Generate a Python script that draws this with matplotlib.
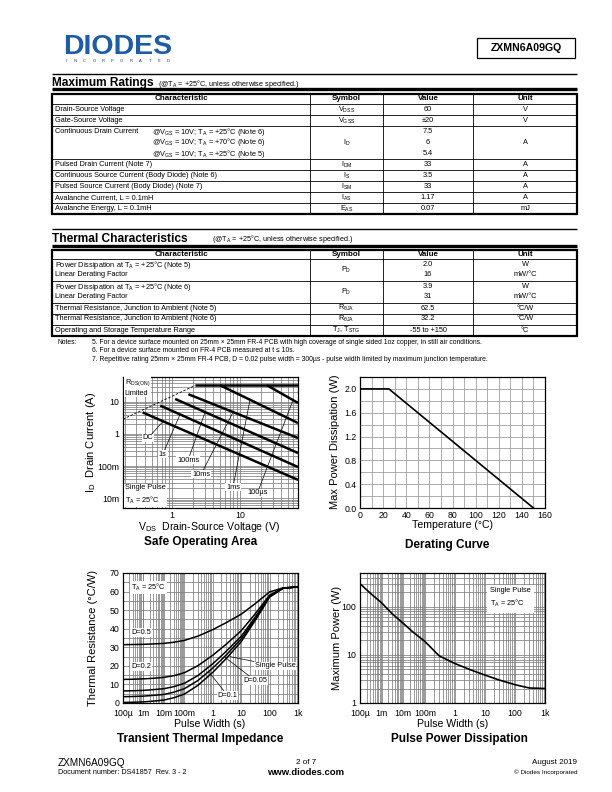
import numpy as np
import matplotlib.pyplot as plt
from matplotlib.patches import Rectangle
from matplotlib.ticker import FixedLocator, FixedFormatter, NullFormatter, MultipleLocator

plt.rcParams['font.family'] = ['Liberation Sans', 'DejaVu Sans']
plt.rcParams['mathtext.fontset'] = 'custom'
plt.rcParams['mathtext.rm'] = 'Liberation Sans'
plt.rcParams['mathtext.it'] = 'Liberation Sans:italic'
plt.rcParams['mathtext.bf'] = 'Liberation Sans:bold'

# ---- table data ----
max_chars = ["Drain-Source Voltage", "Gate-Source Voltage", "Continuous Drain Current",
             "Pulsed Drain Current (Note 7)", "Continuous Source Current (Body Diode) (Note 6)",
             "Pulsed Source Current (Body Diode) (Note 7)", "Avalanche Current, L = 0.1mH",
             "Avalanche Energy, L = 0.1mH"]
id_conditions = [r"@V$_{\rm GS}$ = 10V; T$_{\rm A}$ = +25°C (Note 6)",
                 r"@V$_{\rm GS}$ = 10V; T$_{\rm A}$ = +70°C (Note 6)",
                 r"@V$_{\rm GS}$ = 10V; T$_{\rm A}$ = +25°C (Note 5)"]
max_symbols = [r"V$_{\rm DSS}$", r"V$_{\rm GSS}$", r"I$_{\rm D}$", r"I$_{\rm DM}$", r"I$_{\rm S}$",
               r"I$_{\rm SM}$", r"I$_{\rm AS}$", r"E$_{\rm AS}$"]
max_values = [["60"], ["±20"], ["7.5", "6", "5.4"], ["33"], ["3.5"], ["33"], ["1.17"], ["0.07"]]
max_units = ["V", "V", "A", "A", "A", "A", "A", "mJ"]

th_chars = [[r"Power Dissipation at T$_{\rm A}$ = +25°C (Note 5)", "Linear Derating Factor"],
            [r"Power Dissipation at T$_{\rm A}$ = +25°C (Note 6)", "Linear Derating Factor"],
            ["Thermal Resistance, Junction to Ambient (Note 5)"],
            ["Thermal Resistance, Junction to Ambient (Note 6)"],
            ["Operating and Storage Temperature Range"]]
th_symbols = [r"P$_{\rm D}$", r"P$_{\rm D}$", r"R$_{\rm θJA}$", r"R$_{\rm θJA}$",
              r"T$_{\rm J}$, T$_{\rm STG}$"]
th_values = [["2.0", "16"], ["3.9", "31"], ["62.5"], ["32.2"], ["-55 to +150"]]
th_units = [["W", "mW/°C"], ["W", "mW/°C"], ["°C/W"], ["°C/W"], ["°C"]]

notes = ["5. For a device surface mounted on 25mm × 25mm FR-4 PCB with high coverage of single sided 1oz copper, in still air conditions.",
         "6. For a device surface mounted on FR-4 PCB measured at t ≤ 10s.",
         "7. Repetitive rating 25mm × 25mm FR-4 PCB, D = 0.02 pulse width = 300µs - pulse width limited by maximum junction temperature."]

# ---- safe operating area ----
soa_labels = ["DC", "1s", "100ms", "10ms", "1ms", "100µs"]
soa_v = [[0.37, 71], [0.67, 71], [1.11, 71], [1.74, 71], [5.1, 71], [24.9, 71]]
soa_i = [[4.7, 0.037], [7.7, 0.093], [12.4, 0.255], [17.4, 0.75], [33, 2.2], [33, 9.3]]
rds_v = [0.19, 2.2]
rds_i = [2.9, 33]
idm_v = [2.2, 71]
idm_i = [33, 33]

# ---- derating ----
derate_t = [0, 25, 150]
derate_p = [2.0, 2.0, 0.0]

# ---- transient thermal impedance / pulse power ----
pulse_t = [1e-4, 3e-4, 1e-3, 3e-3, 1e-2, 3e-2, 0.1, 0.3, 1, 3, 10, 30, 100, 300, 1000]
zth = {
    "D=0.5": [31.4, 31.5, 31.6, 31.8, 32.1, 32.7, 33.7, 36.0, 39.5, 43.3, 47.8, 53.3, 59.8, 62.0, 62.5],
    "D=0.2": [12.7, 12.8, 13.0, 13.3, 13.8, 14.7, 16.3, 20.1, 25.7, 31.7, 38.9, 47.7, 58.1, 61.9, 62.5],
    "D=0.1": [6.5, 6.6, 6.8, 7.2, 7.7, 8.8, 10.6, 14.8, 21.1, 27.9, 35.9, 45.9, 57.5, 61.9, 62.5],
    "D=0.05": [3.4, 3.5, 3.7, 4.1, 4.6, 5.8, 7.7, 12.1, 18.8, 25.9, 34.5, 44.9, 57.3, 61.8, 62.5],
    "Single Pulse": [0.3, 0.4, 0.6, 1.0, 1.6, 2.8, 4.8, 9.5, 16.5, 24.0, 33.0, 44.0, 57.0, 61.8, 62.5],
}
pulse_p = [300, 190, 120, 72, 45, 29, 19, 9.5, 6.6, 5.0, 3.8, 3.0, 2.4, 2.05, 2.0]
time_ticks = [1e-4, 1e-3, 1e-2, 0.1, 1, 10, 100, 1000]
time_labels = ["100µ", "1m", "10m", "100m", "1", "10", "100", "1k"]

W, H = 612, 792
fig = plt.figure(figsize=(W / 100, H / 100), dpi=100)
page = fig.add_axes([0, 0, 1, 1])
page.set_xlim(0, W)
page.set_ylim(H, 0)
page.axis("off")

GRID = "#7f7f7f"


def add_ax(x0, y0, x1, y1):
    return fig.add_axes([x0 / W, 1 - y1 / H, (x1 - x0) / W, (y1 - y0) / H])


def hline(y, x0=52, x1=577, lw=0.6):
    page.plot([x0, x1], [y, y], color="black", lw=lw, solid_capstyle="butt")


def vline(x, y0, y1, lw=0.6):
    page.plot([x, x], [y0, y1], color="black", lw=lw, solid_capstyle="butt")


# ---- header ----
page.text(63, 54.5, "DIODES", fontsize=20.5, fontweight="bold", color="#1d5ca6",
          va="baseline", ha="left")
page.plot([63, 172], [45, 45], color="white", lw=0.7)
for k, ch in enumerate("INCORPORATED"):
    page.text(66 + 9.3 * k, 61.5, ch, fontsize=3.0, color="#333333", va="center", ha="center")
page.add_patch(Rectangle((477, 38), 98, 20, fill=False, ec="black", lw=0.9))
page.text(526, 48, "ZXMN6A09GQ", fontsize=7.6, fontweight="bold", ha="center", va="center")

col_x = [52, 310, 383, 473, 577]


def table(top, heads, rows, head_h=10):
    # rows: list of (char_lines, symbol, value_lines, unit_lines)
    y = top
    for i, h in enumerate(heads):
        page.text((col_x[i] + col_x[i + 1]) / 2, y + head_h / 2, h, fontsize=5.8,
                  fontweight="bold", ha="center", va="center")
    y += head_h
    hline(y)
    for chars, sym, vals, units in rows:
        n = max(len(chars), len(vals), len(units))
        h = 11 * n
        for k, c in enumerate(chars):
            if isinstance(c, tuple):
                page.text(265, y + 5.5 + 11 * k, c[1], fontsize=5.3, ha="right", va="center")
                if c[0]:
                    page.text(55, y + 5.5 + 11 * k, c[0], fontsize=5.3, ha="left", va="center")
            else:
                page.text(55, y + 5.5 + 9 * k + (1 if len(chars) == 2 else 0), c,
                          fontsize=5.3, ha="left", va="center")
        page.text((col_x[1] + col_x[2]) / 2, y + h / 2, sym, fontsize=5.3, ha="center", va="center")
        for k, v in enumerate(vals):
            yy = y + h / 2 + (k - (len(vals) - 1) / 2) * (11 if len(vals) == 3 else 9)
            page.text((col_x[2] + col_x[3]) / 2, yy, v, fontsize=5.3, ha="center", va="center")
        for k, u in enumerate(units):
            yy = y + h / 2 + (k - (len(units) - 1) / 2) * 9
            page.text((col_x[3] + col_x[4]) / 2, yy, u, fontsize=5.3, ha="center", va="center")
        y += h
        hline(y, lw=0.6)
    page.add_patch(Rectangle((col_x[0], top), col_x[-1] - col_x[0], y - top, fill=False,
                             ec="black", lw=1.6))
    for x in col_x[1:-1]:
        vline(x, top, y)
    return y


heads = ["Characteristic", "Symbol", "Value", "Unit"]

# ---- maximum ratings ----
hline(73.5, lw=1.0)
page.text(52, 83, "Maximum Ratings", fontsize=8.6, fontweight="bold", va="center")
page.text(158, 83.5, r"(@T$_{\rm A}$ = +25°C, unless otherwise specified.)", fontsize=5.2, va="center")
hline(89, lw=2.4)
rows = []
for i in range(len(max_chars)):
    if i == 2:
        chars = [(max_chars[i], id_conditions[0]), ("", id_conditions[1]), ("", id_conditions[2])]
    else:
        chars = [max_chars[i]]
    rows.append((chars, max_symbols[i], max_values[i], [max_units[i]]))
table(94, heads, rows)

# ---- thermal characteristics ----
hline(229, lw=1.0)
page.text(52, 238.5, "Thermal Characteristics", fontsize=8.6, fontweight="bold", va="center")
page.text(212, 239, r"(@T$_{\rm A}$ = +25°C, unless otherwise specified.)", fontsize=5.2, va="center")
hline(245.5, lw=2.4)
rows = [(th_chars[i], th_symbols[i], th_values[i], th_units[i]) for i in range(len(th_chars))]
table(249.5, heads, rows, head_h=9)

page.text(58, 342.5, "Notes:", fontsize=4.9, va="center")
for k, n in enumerate(notes):
    page.text(92, 342.5 + 8.4 * k, n, fontsize=4.9, va="center")


def style_chart(ax, xpad=2.5):
    for s in ax.spines.values():
        s.set_linewidth(0.9)
    ax.tick_params(which="both", length=0, labelsize=6.3, pad=2.5)
    ax.tick_params(axis="x", pad=xpad)
    ax.set_axisbelow(True)


# ---- Safe operating area ----
ax = add_ax(123, 377, 298, 508)
ax.set_xscale("log")
ax.set_yscale("log")
ax.set_xlim(0.19, 71)
ax.set_ylim(0.0049, 60)
ax.grid(True, which="both", color=GRID, lw=0.55)
ax.plot(rds_v, rds_i, color="black", lw=0.6, ls=(0, (3, 2)))
ax.plot(idm_v, idm_i, color="black", lw=1.8, solid_capstyle="butt")
for v, i in zip(soa_v, soa_i):
    ax.plot(v, i, color="black", lw=1.8, solid_capstyle="butt")
ax.xaxis.set_major_locator(FixedLocator([1, 10]))
ax.xaxis.set_major_formatter(FixedFormatter(["1", "10"]))
ax.xaxis.set_minor_formatter(NullFormatter())
ax.yaxis.set_major_locator(FixedLocator([0.01, 0.1, 1, 10]))
ax.yaxis.set_major_formatter(FixedFormatter(["10m", "100m", "1", "10"]))
ax.yaxis.set_minor_formatter(NullFormatter())
style_chart(ax)

box = dict(fc="white", ec="none", pad=0.6)
ax.text(0.2, 30, "R$_{\\rm DS(ON)}$\nLimited", fontsize=5.3, va="center", ha="left",
        bbox=box, linespacing=1.4)
leader_at = [0.74, 1.31, 3.06, 7.9, 14.0, 60.0]
text_at = [(0.37, 0.75), (0.64, 0.237), (1.18, 0.154), (1.97, 0.056), (6.2, 0.022), (12.7, 0.0144)]
for lab, v, i, vx, (tx, ty) in zip(soa_labels, soa_v, soa_i, leader_at, text_at):
    iy = 10 ** np.interp(np.log10(vx), np.log10(v), np.log10(i))
    ax.annotate(lab, xy=(vx, iy), xytext=(tx, ty), fontsize=5.3, ha="left", va="center",
                bbox=box, arrowprops=dict(arrowstyle="-", lw=0.5, color="black",
                                          shrinkA=0, shrinkB=0))
ax.text(0.205, 0.0125, "Single Pulse\nT$_{\\rm A}$ = 25°C", fontsize=5.3, va="center",
        ha="left", bbox=box, linespacing=1.5)

page.text(90.5, 442, r"I$_{\rm D}$  Drain Current (A)", fontsize=8, rotation=90, ha="center", va="center")
page.text(209, 527, r"V$_{\rm DS}$  Drain-Source Voltage (V)", fontsize=7.6, ha="center", va="center")
page.text(201, 542, "Safe Operating Area", fontsize=8.5, fontweight="bold", ha="center", va="center")

# ---- Derating ----
ax = add_ax(360, 377, 545, 508)
ax.plot(derate_t, derate_p, color="black", lw=1.2)
ax.set_xlim(0, 160)
ax.set_ylim(0, 2.2)
ax.xaxis.set_major_locator(MultipleLocator(20))
ax.xaxis.set_minor_locator(MultipleLocator(10))
ax.yaxis.set_major_locator(MultipleLocator(0.4))
ax.yaxis.set_minor_locator(MultipleLocator(0.2))
ax.yaxis.set_major_formatter(plt.FormatStrFormatter("%.1f"))
ax.grid(True, which="both", color="#999999", lw=0.55)
style_chart(ax)
page.text(335, 442, "Max Power Dissipation (W)", fontsize=8, rotation=90, ha="center", va="center")
page.text(453, 525, "Temperature (°C)", fontsize=7.6, ha="center", va="center")
page.text(447, 545, "Derating Curve", fontsize=8.5, fontweight="bold", ha="center", va="center")

# piecewise log axis for pulse width: decades below 100m drawn narrower
R = 0.72


def fwd(x):
    lx = np.log10(np.maximum(x, 1e-12))
    return np.where(lx < -1, -1 + (lx + 1) * R, lx)


def inv(y):
    y = np.asarray(y, dtype=float)
    return np.where(y < -1, 10 ** (-1 + (y + 1) / R), 10 ** y)


minor_t = [m * 10.0 ** e for e in range(-4, 3) for m in range(2, 10)]


def time_axis(ax):
    ax.set_xscale("function", functions=(fwd, inv))
    ax.set_xlim(1e-4, 1e3)
    ax.xaxis.set_major_locator(FixedLocator(time_ticks))
    ax.xaxis.set_major_formatter(FixedFormatter(time_labels))
    ax.xaxis.set_minor_locator(FixedLocator(minor_t))
    ax.xaxis.set_minor_formatter(NullFormatter())


# ---- Transient thermal impedance ----
ax = add_ax(123, 573, 298, 703)
time_axis(ax)
ax.set_ylim(0, 70)
ax.yaxis.set_major_locator(MultipleLocator(10))
ax.yaxis.set_minor_locator(MultipleLocator(5))
ax.grid(True, which="both", color=GRID, lw=0.55)
for name, z in zth.items():
    ax.plot(pulse_t, z, color="black", lw=1.1)
style_chart(ax, xpad=4.5)
ax.text(2.5e-4, 62, "T$_{\\rm A}$ = 25°C", fontsize=5.3, va="center", bbox=box)
ax.text(2.5e-4, 38, "D=0.5", fontsize=5.3, va="center", bbox=box)
ax.text(2.5e-4, 19.5, "D=0.2", fontsize=5.3, va="center", bbox=box)
ax.annotate("Single Pulse", xy=(4, 25), xytext=(30, 20), fontsize=5.3, va="center",
            bbox=box, arrowprops=dict(arrowstyle="-", lw=0.5, shrinkA=0, shrinkB=0))
ax.annotate("D=0.05", xy=(2.5, 25), xytext=(12, 12), fontsize=5.3, va="center",
            bbox=box, arrowprops=dict(arrowstyle="-", lw=0.5, shrinkA=0, shrinkB=0))
ax.annotate("D=0.1", xy=(0.7, 17), xytext=(1.5, 4), fontsize=5.3, va="center",
            bbox=box, arrowprops=dict(arrowstyle="-", lw=0.5, shrinkA=0, shrinkB=0))
page.text(93, 638, "Thermal Resistance (°C/W)", fontsize=8, rotation=90, ha="center", va="center")
page.text(210, 724, "Pulse Width (s)", fontsize=7.6, ha="center", va="center")
page.text(200, 739, "Transient Thermal Impedance", fontsize=8.5, fontweight="bold",
          ha="center", va="center")

# ---- Pulse power dissipation ----
ax = add_ax(360, 573, 545, 703)
time_axis(ax)
ax.set_yscale("log")
ax.set_ylim(1, 500)
ax.yaxis.set_major_locator(FixedLocator([1, 10, 100]))
ax.yaxis.set_major_formatter(FixedFormatter(["1", "10", "100"]))
ax.yaxis.set_minor_formatter(NullFormatter())
ax.grid(True, which="both", color=GRID, lw=0.55)
ax.plot(pulse_t, pulse_p, color="black", lw=1.2)
style_chart(ax, xpad=4.5)
ax.text(15, 150, "Single Pulse\nT$_{\\rm A}$ = 25°C", fontsize=5.3, va="center", ha="left",
        bbox=dict(fc="white", ec="none", pad=2.5), linespacing=1.5)
page.text(337, 638, "Maximum Power (W)", fontsize=8, rotation=90, ha="center", va="center")
page.text(453, 724, "Pulse Width (s)", fontsize=7.6, ha="center", va="center")
page.text(459, 739, "Pulse Power Dissipation", fontsize=8.5, fontweight="bold",
          ha="center", va="center")

# ---- footer ----
page.text(58, 763, "ZXMN6A09GQ", fontsize=7.2, va="center")
page.text(58, 772.5, "Document number: DS41857  Rev. 3 - 2", fontsize=5.2, va="center")
page.text(306, 763, "2 of 7", fontsize=5.8, ha="center", va="center")
page.text(306, 772.5, "www.diodes.com", fontsize=6.8, fontweight="bold", ha="center", va="center")
page.text(577, 763, "August 2019", fontsize=5.8, ha="right", va="center")
page.text(577, 772.5, "© Diodes Incorporated", fontsize=4.6, ha="right", va="center")

fig.savefig("out.png", dpi=100)
